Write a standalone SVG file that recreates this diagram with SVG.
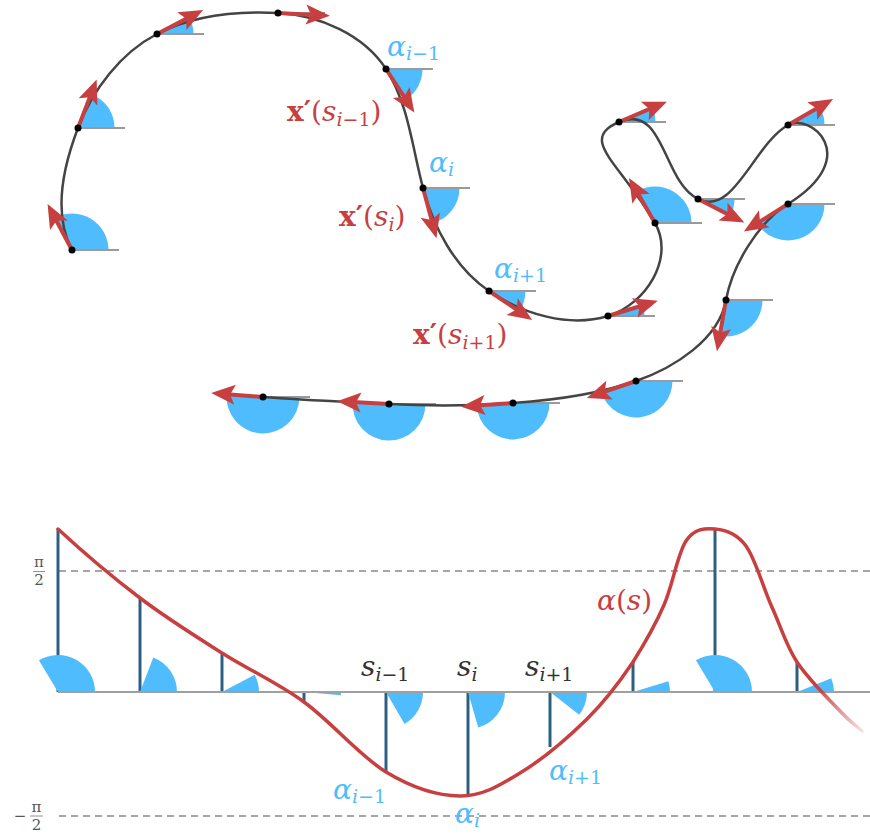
<svg xmlns="http://www.w3.org/2000/svg" xmlns:xlink="http://www.w3.org/1999/xlink" width="870" height="835" viewBox="0 0 870 835">
<style>
.wedge{fill:#4FBDFD;stroke:none}
.ref{stroke:#9a9a9a;stroke-width:2}
.curve{fill:none;stroke:#444;stroke-width:2.5}
.dot{fill:#000}
.stem{stroke:#2D5F82;stroke-width:3}
.dash{stroke:#888;stroke-width:1.3;stroke-dasharray:7 5}
text{font-family:'DejaVu Serif',serif}
.it{font-style:italic}
.up{font-style:normal}
.blue{fill:#4FBDFD}
.red{fill:#C83F3F}
.dark{fill:#333}
.big{font-size:28px}
.sub{font-size:19px}
.tick{font-size:15px;fill:#555}
</style>
<defs>
<g id="arr">
<path d="M0,0 L36,0" stroke="#C83F3F" stroke-width="4"/>
<path d="M52,0 L28,-10 L33,0 L28,10 Z" fill="#C83F3F"/>
</g>
<linearGradient id="fade" gradientUnits="userSpaceOnUse" x1="815" y1="0" x2="866" y2="0">
<stop offset="0" stop-color="#C83F3F" stop-opacity="1"/>
<stop offset="1" stop-color="#C83F3F" stop-opacity="0.08"/>
</linearGradient>
</defs>

<g id="wedges-top">
<path class="wedge" d="M72,250 L108.5,250 A36.5,36.5 0 0 0 54.86,217.77 Z"/>
<path class="wedge" d="M78,128 L114.5,128 A36.5,36.5 0 0 0 91.08,93.92 Z"/>
<path class="wedge" d="M157,34 L193.5,34 A36.5,36.5 0 0 0 189.38,17.15 Z"/>
<path class="wedge" d="M278,13 L314.5,13 A36.5,36.5 0 0 1 314.45,14.91 Z"/>
<path class="wedge" d="M386,69 L422.5,69 A36.5,36.5 0 0 1 405.88,99.61 Z"/>
<path class="wedge" d="M423,188 L459.5,188 A36.5,36.5 0 0 1 432.45,223.26 Z"/>
<path class="wedge" d="M489,291 L525.5,291 A36.5,36.5 0 0 1 519.26,311.41 Z"/>
<path class="wedge" d="M608,316 L644.5,316 A36.5,36.5 0 0 0 642.9,305.33 Z"/>
<path class="wedge" d="M655,223 L691.5,223 A36.5,36.5 0 0 0 636.75,191.39 Z"/>
<path class="wedge" d="M619,122 L655.5,122 A36.5,36.5 0 0 0 652.6,107.74 Z"/>
<path class="wedge" d="M698,199 L734.5,199 A36.5,36.5 0 0 1 730.52,215.57 Z"/>
<path class="wedge" d="M788,125 L824.5,125 A36.5,36.5 0 0 0 819.61,106.75 Z"/>
<path class="wedge" d="M788,204 L824.5,204 A36.5,36.5 0 0 1 757.05,223.34 Z"/>
<path class="wedge" d="M726,300 L762.5,300 A36.5,36.5 0 0 1 719.66,335.95 Z"/>
<path class="wedge" d="M636,381 L672.5,381 A36.5,36.5 0 0 1 601.49,392.88 Z"/>
<path class="wedge" d="M513,403 L549.5,403 A36.5,36.5 0 0 1 476.59,405.55 Z"/>
<path class="wedge" d="M389,404 L425.5,404 A36.5,36.5 0 1 1 352.55,402.09 Z"/>
<path class="wedge" d="M263,397 L299.5,397 A36.5,36.5 0 1 1 226.61,394.13 Z"/>
</g>
<g id="reflines-top" class="ref">
<line x1="72" y1="250" x2="119" y2="250"/>
<line x1="78" y1="128" x2="125" y2="128"/>
<line x1="157" y1="34" x2="204" y2="34"/>
<line x1="278" y1="13" x2="325" y2="13"/>
<line x1="386" y1="69" x2="433" y2="69"/>
<line x1="423" y1="188" x2="470" y2="188"/>
<line x1="489" y1="291" x2="536" y2="291"/>
<line x1="608" y1="316" x2="655" y2="316"/>
<line x1="655" y1="223" x2="702" y2="223"/>
<line x1="619" y1="122" x2="666" y2="122"/>
<line x1="698" y1="199" x2="745" y2="199"/>
<line x1="788" y1="125" x2="835" y2="125"/>
<line x1="788" y1="204" x2="835" y2="204"/>
<line x1="726" y1="300" x2="773" y2="300"/>
<line x1="636" y1="381" x2="683" y2="381"/>
<line x1="513" y1="403" x2="560" y2="403"/>
<line x1="389" y1="404" x2="436" y2="404"/>
<line x1="263" y1="397" x2="310" y2="397"/>
</g>

<g id="curve-top">
<path class="curve" d="M72,250 C52.8,213.8 63.3,166.3 78,128 C92.7,89.7 120.6,52.9 157,34 C193.4,15.1 237,10.9 278,13 C319,15.1 363.7,34.6 386,69 C408.3,103.4 412.4,148.4 423,188 C433.6,227.6 455,268.1 489,291 C523,314 568.8,328 608,316 C646.2,304.3 675,257.6 655,223 C620,162.4 577.6,139.6 619,122 C665,103 662,181 698,199 C733.6,217 753.4,145 788,125 C809.7,112.5 864.3,156.3 788,204 C758,222.5 732.3,265.7 726,300 C719.1,339.4 673.8,368 636,381 C596.3,394.7 554.9,400.1 513,403 C471,406 431,406.2 389,404 C347,401.8 305,400.3 263,397 L228,394.5"/>
</g>

<g id="arrows-top">
<use xlink:href="#arr" transform="translate(72 250) rotate(-118)"/>
<use xlink:href="#arr" transform="translate(78 128) rotate(-69)"/>
<use xlink:href="#arr" transform="translate(157 34) rotate(-27.5)"/>
<use xlink:href="#arr" transform="translate(278 13) rotate(3)"/>
<use xlink:href="#arr" transform="translate(386 69) rotate(57)"/>
<use xlink:href="#arr" transform="translate(423 188) rotate(75)"/>
<use xlink:href="#arr" transform="translate(489 291) rotate(34)"/>
<use xlink:href="#arr" transform="translate(608 316) rotate(-17)"/>
<use xlink:href="#arr" transform="translate(655 223) rotate(-120)"/>
<use xlink:href="#arr" transform="translate(619 122) rotate(-23)"/>
<use xlink:href="#arr" transform="translate(698 199) rotate(27)"/>
<use xlink:href="#arr" transform="translate(788 125) rotate(-30)"/>
<use xlink:href="#arr" transform="translate(788 204) rotate(148)"/>
<use xlink:href="#arr" transform="translate(726 300) rotate(100)"/>
<use xlink:href="#arr" transform="translate(636 381) rotate(161)"/>
<use xlink:href="#arr" transform="translate(513 403) rotate(176)"/>
<use xlink:href="#arr" transform="translate(389 404) rotate(183)"/>
<use xlink:href="#arr" transform="translate(263 397) rotate(184.5)"/>
</g>
<g id="dots-top" class="dot">
<circle cx="72" cy="250" r="3.5"/>
<circle cx="78" cy="128" r="3.5"/>
<circle cx="157" cy="34" r="3.5"/>
<circle cx="278" cy="13" r="3.5"/>
<circle cx="386" cy="69" r="3.5"/>
<circle cx="423" cy="188" r="3.5"/>
<circle cx="489" cy="291" r="3.5"/>
<circle cx="608" cy="316" r="3.5"/>
<circle cx="655" cy="223" r="3.5"/>
<circle cx="619" cy="122" r="3.5"/>
<circle cx="698" cy="199" r="3.5"/>
<circle cx="788" cy="125" r="3.5"/>
<circle cx="788" cy="204" r="3.5"/>
<circle cx="726" cy="300" r="3.5"/>
<circle cx="636" cy="381" r="3.5"/>
<circle cx="513" cy="403" r="3.5"/>
<circle cx="389" cy="404" r="3.5"/>
<circle cx="263" cy="397" r="3.5"/>
</g>

<g id="labels-top">
<text class="blue big it" x="387" y="56">α<tspan class="sub" dy="4">i<tspan class="up">−1</tspan></tspan></text>
<text class="blue big it" x="429" y="172">α<tspan class="sub" dy="4">i</tspan></text>
<text class="blue big it" x="494" y="278">α<tspan class="sub" dy="4">i<tspan class="up">+1</tspan></tspan></text>
<text class="red big" x="287" y="121"><tspan font-weight="bold">x′</tspan>(<tspan class="it">s</tspan><tspan class="sub" dy="5"><tspan class="it">i</tspan>−1</tspan><tspan dy="-5">)</tspan></text>
<text class="red big" x="339" y="226"><tspan font-weight="bold">x′</tspan>(<tspan class="it">s</tspan><tspan class="sub it" dy="5">i</tspan><tspan dy="-5">)</tspan></text>
<text class="red big" x="413" y="344"><tspan font-weight="bold">x′</tspan>(<tspan class="it">s</tspan><tspan class="sub" dy="5"><tspan class="it">i</tspan>+1</tspan><tspan dy="-5">)</tspan></text>
</g>

<g id="axes">
<line class="dash" x1="59" y1="571" x2="870" y2="571"/>
<line class="dash" x1="59" y1="816" x2="870" y2="816"/>
</g>
<g id="stems" class="stem">
<line x1="58" y1="692" x2="58" y2="529"/>
<line x1="140" y1="692" x2="140" y2="598"/>
<line x1="222" y1="692" x2="222" y2="653"/>
<line x1="304" y1="692" x2="304" y2="702"/>
<line x1="386" y1="692" x2="386" y2="772"/>
<line x1="468" y1="692" x2="468" y2="795"/>
<line x1="550" y1="692" x2="550" y2="747"/>
<line x1="633" y1="692" x2="633" y2="662"/>
<line x1="715" y1="692" x2="715" y2="529"/>
<line x1="797" y1="692" x2="797" y2="662"/>
</g>
<g id="wedges-bottom">
<path class="wedge" d="M58,692 L95,692 A37,37 0 0 0 38.94,660.29 Z"/>
<path class="wedge" d="M140,692 L177,692 A37,37 0 0 0 153.26,657.46 Z"/>
<path class="wedge" d="M222,692 L259,692 A37,37 0 0 0 254.67,674.63 Z"/>
<path class="wedge" d="M304,692 L341,692 A37,37 0 0 1 340.86,695.23 Z"/>
<path class="wedge" d="M386,692 L423,692 A37,37 0 0 1 404.5,724.04 Z"/>
<path class="wedge" d="M468,692 L505,692 A37,37 0 0 1 478.2,727.57 Z"/>
<path class="wedge" d="M550,692 L587,692 A37,37 0 0 1 579.16,714.78 Z"/>
<path class="wedge" d="M633,692 L670,692 A37,37 0 0 0 668.38,681.18 Z"/>
<path class="wedge" d="M715,692 L752,692 A37,37 0 0 0 695.94,660.29 Z"/>
<path class="wedge" d="M797,692 L834,692 A37,37 0 0 0 831.3,678.14 Z"/>
</g>
<line id="axis" x1="58" y1="692" x2="870" y2="692" stroke="#a0a0a0" stroke-width="2"/>
<g id="alpha-curve">
<path fill="none" stroke="url(#fade)" stroke-width="3.5" stroke-linecap="round" d="M58,529 C85,554 112.7,577.3 140,598 C167.3,618.7 194.7,635.7 222,653 C249.3,670.3 276.7,682.2 304,702 C331.3,721.8 360,756.3 386,772 C412,787.7 437.7,795.8 460,796 C482.3,796.2 498.8,785.8 520,773 C541.2,760.2 568.2,737.5 587,719 C605.8,700.5 620.2,681 633,662 C641.8,648 655.2,625.2 664,605 C672.8,584.8 677.5,553.7 686,541 C694.5,528.3 705,528.2 715,529 C725,529.8 736.7,533.3 746,546 C755.3,558.7 762.5,585.7 771,605 C782.5,630.3 785.5,644.3 797,662 C808.5,679.7 829.2,699.5 840,711 C850.8,722.5 854.7,724.3 862,731"/>
</g>
<g id="labels-bottom">
<text class="tick" x="39" y="567" text-anchor="middle">π</text>
<line x1="33" y1="571.5" x2="45" y2="571.5" stroke="#777" stroke-width="0.8"/>
<text class="tick" x="39" y="585" text-anchor="middle">2</text>
<text class="tick" x="20" y="821" text-anchor="middle" font-size="18">−</text>
<text class="tick" x="36.5" y="812" text-anchor="middle">π</text>
<line x1="30" y1="816" x2="43" y2="816" stroke="#777" stroke-width="0.8"/>
<text class="tick" x="36.5" y="830" text-anchor="middle">2</text>
<text class="dark big it" x="361" y="676">s<tspan class="sub" dy="5">i<tspan class="up">−1</tspan></tspan></text>
<text class="dark big it" x="457" y="676">s<tspan class="sub" dy="5">i</tspan></text>
<text class="dark big it" x="525" y="676">s<tspan class="sub" dy="5">i<tspan class="up">+1</tspan></tspan></text>
<text class="blue big it" x="333" y="799">α<tspan class="sub" dy="4">i<tspan class="up">−1</tspan></tspan></text>
<text class="blue big it" x="455" y="823">α<tspan class="sub" dy="4">i</tspan></text>
<text class="blue big it" x="549" y="780">α<tspan class="sub" dy="4">i<tspan class="up">+1</tspan></tspan></text>
<text class="red big" x="597" y="610"><tspan class="it">α</tspan>(<tspan class="it">s</tspan>)</text>
</g>
</svg>
